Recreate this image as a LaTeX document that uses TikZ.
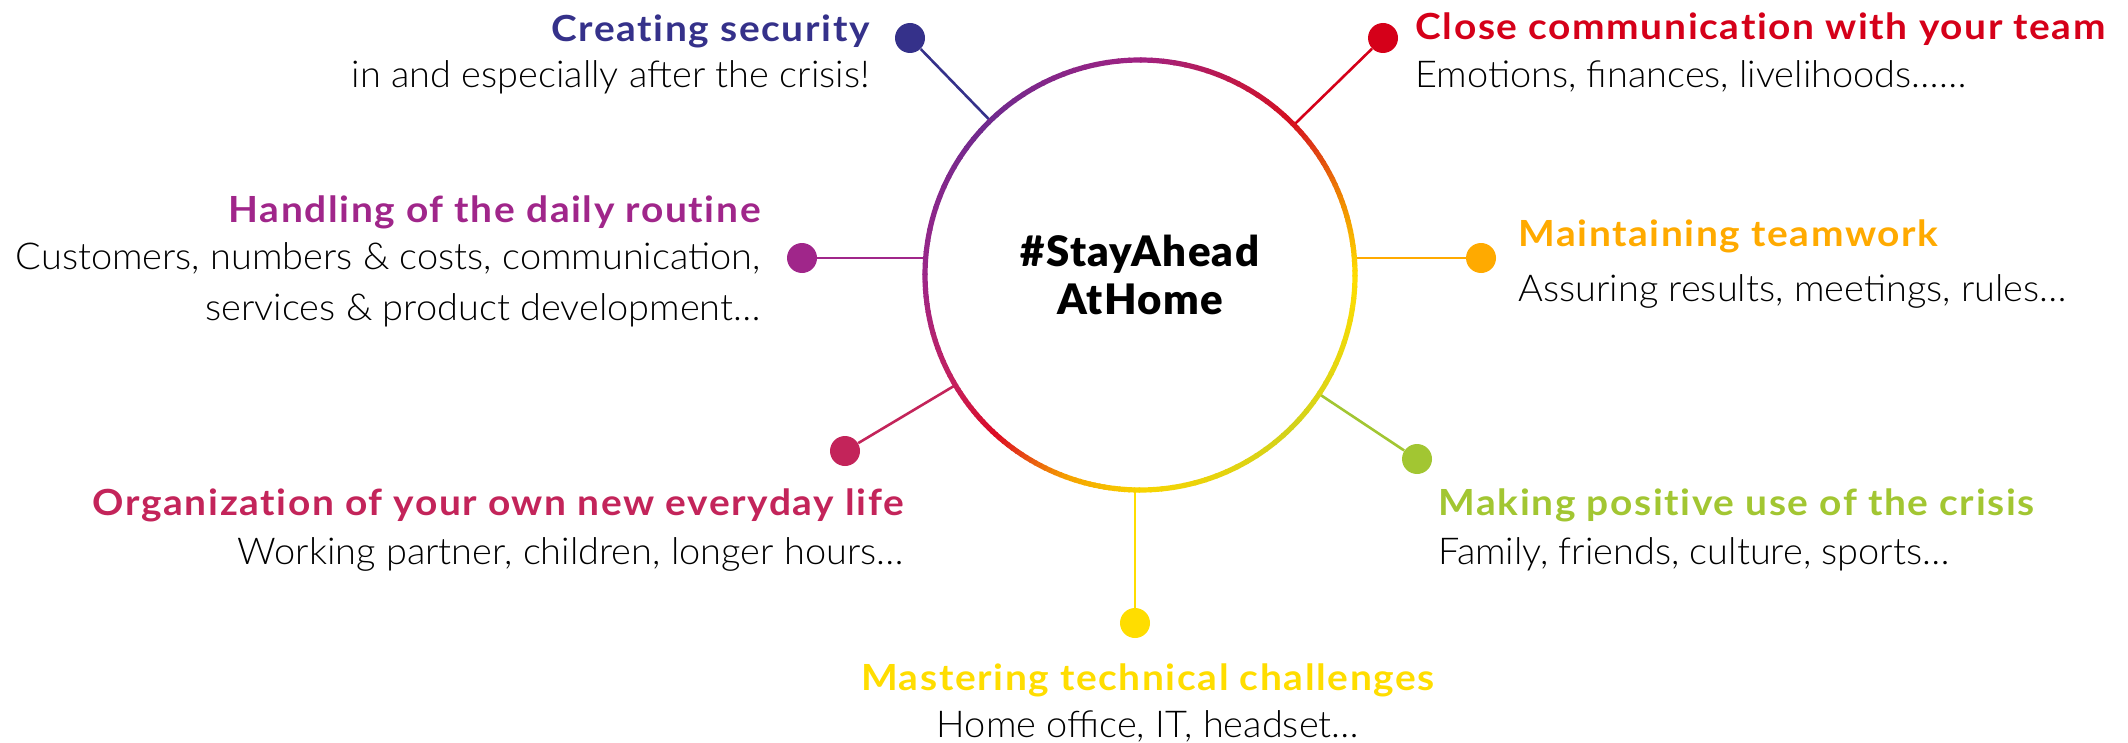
\documentclass[tikz,border=0pt]{standalone}
\usepackage{fontspec}
\setmainfont{Lato}
\newfontfamily\lightfont{Lato Light}[FakeStretch=1.025]
\newfontfamily\titlefont{Lato Bold}[FakeStretch=1.08, LetterSpace=4.5, Ligatures=NoCommon]
\newfontfamily\blackfont{Lato Black}[LetterSpace=3]
\definecolor{cblue}{HTML}{35318A}
\definecolor{cpurple}{HTML}{A0268A}
\definecolor{cmagenta}{HTML}{C3245A}
\definecolor{cred}{HTML}{D50019}
\definecolor{corange}{HTML}{FFAA00}
\definecolor{cyellow}{HTML}{FFDD00}
\definecolor{cgreen}{HTML}{A2C632}
\definecolor{gA}{HTML}{FFDD00}
\definecolor{gB}{HTML}{D2D21C}
\definecolor{gC}{HTML}{F8D400}
\definecolor{gD}{HTML}{F5A000}
\definecolor{gE}{HTML}{DC0A24}
\definecolor{gF}{HTML}{C4205E}
\definecolor{gG}{HTML}{9C2688}
\definecolor{gH}{HTML}{6E2A8E}
\definecolor{gI}{HTML}{A02282}
\definecolor{gJ}{HTML}{D5101F}
\definecolor{gK}{HTML}{F08A00}
\newcommand{\ringpart}[4]{%
  \foreach \k in {0,...,14}{%
    \pgfmathsetmacro{\sa}{#1+(#2-#1)*\k/15}%
    \pgfmathsetmacro{\ea}{#1+(#2-#1)*(\k+1)/15+0.4}%
    \pgfmathsetmacro{\pc}{100-100*(\k+0.5)/15}%
    \draw[ringline, draw=#3!\pc!#4] (c.center) ++(\sa:215) arc[start angle=\sa, end angle=\ea, radius=215];
  }}
\tikzset{
  ttl/.style={font=\titlefont\fontsize{18}{20}\selectfont, inner sep=0pt},
  bdy/.style={font=\lightfont\fontsize{18.5}{20}\selectfont, inner sep=0pt, text=black},
  dot/.style={circle, fill, minimum size=15pt, inner sep=0pt},
  link/.style={line width=1.3pt},
  ringline/.style={line width=2.6pt, line cap=butt},
}
\begin{document}
\begin{tikzpicture}[x=0.5pt, y=-0.5pt]
\useasboundingbox (0,0) rectangle (2128,743);
\node[circle, minimum size=215pt, inner sep=0pt, outer sep=0pt, align=center,
      font=\blackfont\fontsize{21}{24}\selectfont] (c) at (1140,275) {\#StayAhead\\AtHome};
% dots
\node[dot, cblue] (d1) at (910,38) {};
\node[dot, cred] (d2) at (1383,38) {};
\node[dot, cpurple] (d3) at (802,258) {};
\node[dot, corange] (d4) at (1481,258) {};
\node[dot, cmagenta] (d5) at (845,451) {};
\node[dot, cgreen] (d6) at (1417,459) {};
\node[dot, cyellow] (d7) at (1135,623) {};
% connectors
\draw[link, cblue] (d1) -- (c);
\draw[link, cred] (d2) -- (c);
\draw[link, cpurple] (d3) -- (d3 -| c.west);
\draw[link, corange] (d4) -- (d4 -| c.east);
\draw[link, cmagenta] (d5) -- (c);
\draw[link, cgreen] (d6) -- (c);
\draw[link, cyellow] (d7) -- (d7 |- c.south);
% gradient ring (angles clockwise from east in image)
\ringpart{0}{45}{gA}{gB}
\ringpart{45}{90}{gB}{gC}
\ringpart{90}{110}{gC}{gD}
\ringpart{110}{132}{gD}{gE}
\ringpart{132}{150}{gE}{gF}
\ringpart{150}{180}{gF}{gG}
\ringpart{180}{225}{gG}{gH}
\ringpart{225}{270}{gH}{gI}
\ringpart{270}{315}{gI}{gJ}
\ringpart{315}{340}{gJ}{gK}
\ringpart{340}{360}{gK}{gA}
% texts
\node[ttl, cblue, anchor=base east] (t1) at (870,42) {Creating security};
\node[bdy, anchor=base east] (b1) at (870,88) {in and especially after the crisis!};
\node[ttl, cred, anchor=base west] (t2) at (1415,40) {Close communication with your team};
\node[bdy, anchor=base west] (b2) at (1415,88) {Emotions, finances, livelihoods……};
\node[ttl, cpurple, anchor=base east] (t3) at (761,222) {Handling of the daily routine};
\node[bdy, anchor=base east] (b3) at (761,270) {Customers, numbers \& costs, communication,};
\node[bdy, anchor=base east] (b3b) at (761,320) {services \& product development…};
\node[ttl, corange, anchor=base west] (t4) at (1518,247) {Maintaining teamwork};
\node[bdy, anchor=base west] (b4) at (1518,301) {Assuring results, meetings, rules…};
\node[ttl, cmagenta, anchor=base east] (t5) at (904,515) {Organization of your own new everyday life};
\node[bdy, anchor=base east] (b5) at (904,564) {Working partner, children, longer hours…};
\node[ttl, cgreen, anchor=base west] (t6) at (1438,515) {Making positive use of the crisis};
\node[bdy, anchor=base west] (b6) at (1438,564) {Family, friends, culture, sports…};
\node[ttl, cyellow, anchor=base] (t7) at (1148,690) {Mastering technical challenges};
\node[bdy, anchor=base] (b7) at (1148,737) {Home office, IT, headset…};
\end{tikzpicture}
\end{document}
